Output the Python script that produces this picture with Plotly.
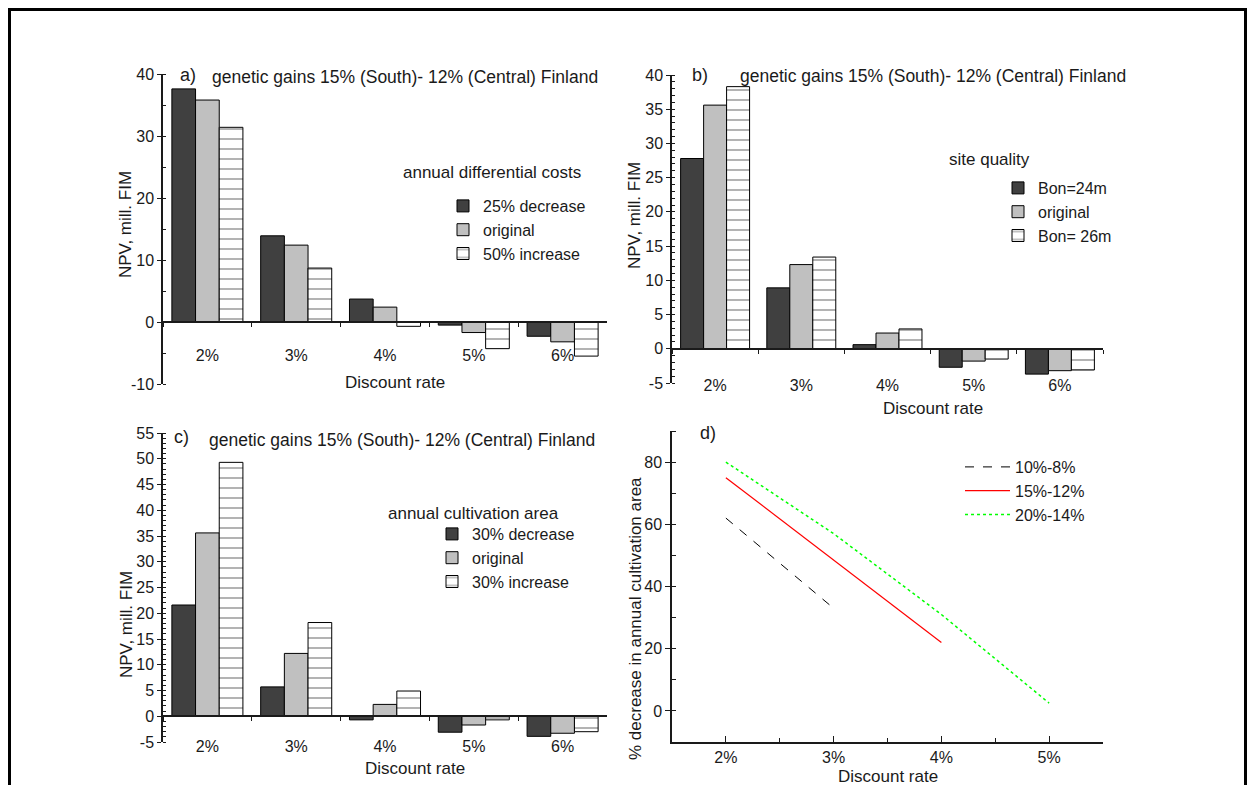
import plotly.graph_objects as go

W, H = 1248, 785

# ---------------- data ----------------
rates = ["2%", "3%", "4%", "5%", "6%"]

a_names = ["25% decrease", "original", "50% increase"]
a_dec = [37.6, 13.9, 3.7, -0.5, -2.3]
a_orig = [35.8, 12.4, 2.4, -1.7, -3.2]
a_inc = [31.4, 8.7, -0.7, -4.3, -5.5]
a_yticks = [-10, 0, 10, 20, 30, 40]

b_names = ["Bon=24m", "original", "Bon= 26m"]
b_24 = [27.8, 8.9, 0.6, -2.7, -3.7]
b_orig = [35.6, 12.3, 2.3, -1.8, -3.2]
b_26 = [38.3, 13.4, 2.9, -1.5, -3.1]
b_yticks = [-5, 0, 5, 10, 15, 20, 25, 30, 35, 40]

c_names = ["30% decrease", "original", "30% increase"]
c_dec = [21.6, 5.7, -0.7, -3.1, -3.9]
c_orig = [35.6, 12.2, 2.3, -1.7, -3.3]
c_inc = [49.3, 18.2, 4.9, -0.7, -3.0]
c_yticks = [-5, 0, 5, 10, 15, 20, 25, 30, 35, 40, 45, 50, 55]

d_names = ["10%-8%", "15%-12%", "20%-14%"]
d_x1 = [2, 3]
d_y1 = [62, 33]
d_x2 = [2, 3, 4]
d_y2 = [75, 48.5, 22]
d_x3 = [2, 3, 4, 5]
d_y3 = [80, 57, 31, 2.5]
d_xticks = [2, 3, 4, 5]
d_xticktext = ["2%", "3%", "4%", "5%"]
d_yticks = [0, 20, 40, 60, 80]

title_text = "genetic gains 15% (South)- 12% (Central) Finland"

# ---------------- helpers ----------------
FONT = "Arial, Liberation Sans, sans-serif"
INK = "#1a1a1a"


def px(p):
    return p / W


def py(p):
    return 1 - p / H


DARK = "#404040"
GREY = "#c0c0c0"

fig = go.Figure()


def add_bars(vals_list, names, xa, ya, legend):
    styles = [
        dict(color=DARK),
        dict(color=GREY),
        dict(color="white", pattern=dict(shape="-", size=10, solidity=0.12,
                                         fgcolor="black", bgcolor="white")),
    ]
    for vals, name, st in zip(vals_list, names, styles):
        marker = dict(line=dict(color="black", width=1), **st)
        fig.add_trace(go.Bar(x=rates, y=vals, name=name, marker=marker,
                             xaxis=xa, yaxis=ya, legend=legend))


add_bars([a_dec, a_orig, a_inc], a_names, "x", "y", "legend")
add_bars([b_24, b_orig, b_26], b_names, "x2", "y2", "legend2")
add_bars([c_dec, c_orig, c_inc], c_names, "x3", "y3", "legend3")

fig.add_trace(go.Scatter(x=d_x1, y=d_y1, name=d_names[0], mode="lines",
                         line=dict(color="black", width=1, dash="dash"),
                         xaxis="x4", yaxis="y4", legend="legend4"))
fig.add_trace(go.Scatter(x=d_x2, y=d_y2, name=d_names[1], mode="lines",
                         line=dict(color="#ff0000", width=1.2),
                         xaxis="x4", yaxis="y4", legend="legend4"))
fig.add_trace(go.Scatter(x=d_x3, y=d_y3, name=d_names[2], mode="lines",
                         line=dict(color="#00ff00", width=1.5, dash="dot"),
                         xaxis="x4", yaxis="y4", legend="legend4"))

# ---------------- axes ----------------
panels = {
    # name: (xleft, xright, ytop, ybottom, ymin, ymax, yticks, minor, standoff)
    "a": (163, 607, 74, 384, -10, 40, a_yticks, 5, 19),
    "b": (672, 1103, 75, 383, -5, 40, b_yticks, 1, 22),
    "c": (163, 607, 433, 742, -5, 55, c_yticks, 1, 16),
}
axis_ids = {"a": ("xaxis", "yaxis"), "b": ("xaxis2", "yaxis2"),
            "c": ("xaxis3", "yaxis3")}
xanchor_ids = {"a": "x", "b": "x2", "c": "x3"}

layout = {}
tickfont = dict(family=FONT, size=16, color=INK)
for k, (xl, xr, yt, yb, ymin, ymax, yt_vals, mn, so) in panels.items():
    xname, yname = axis_ids[k]
    ydom = [py(yb), py(yt)]
    zero_pos = ydom[0] + (0 - ymin) / (ymax - ymin) * (ydom[1] - ydom[0])
    layout[xname] = dict(
        domain=[px(xl), px(xr)], anchor="free", position=zero_pos,
        type="category", range=[-0.5, 4.5], showline=True, linecolor=INK,
        linewidth=1.5, ticks="outside", ticklen=4, tickcolor=INK,
        tickson="boundaries", showgrid=False, zeroline=False,
        tickfont=tickfont, ticklabelstandoff=so, fixedrange=True,
        automargin=False)
    layout[yname] = dict(
        domain=ydom, anchor=xanchor_ids[k], range=[ymin, ymax],
        showline=True, linecolor=INK, linewidth=1.5, ticks="outside",
        ticklen=4, tickcolor=INK, tickvals=yt_vals,
        ticktext=[str(v) for v in yt_vals], showgrid=False,
        zeroline=False, tickfont=tickfont,
        minor=dict(ticks="inside", ticklen=3, dtick=mn, tick0=0, tickcolor=INK),
        fixedrange=True, automargin=False)

layout["xaxis4"] = dict(
    domain=[px(672), px(1103)], anchor="y4", range=[1.5, 5.5],
    tickvals=d_xticks, ticktext=d_xticktext, showline=True, linecolor=INK,
    linewidth=1.5, ticks="inside", ticklen=6, tickcolor=INK, showgrid=False,
    zeroline=False, tickfont=tickfont, ticklabelstandoff=0,
    minor=dict(ticks="inside", ticklen=4, dtick=0.5, tick0=1.5, tickcolor=INK),
    fixedrange=True, automargin=False)
layout["yaxis4"] = dict(
    domain=[py(742), py(431)], anchor="x4", range=[-10, 90],
    showline=True, linecolor=INK, linewidth=1.5, ticks="outside", ticklen=5,
    tickcolor=INK, tickvals=d_yticks, ticktext=[str(v) for v in d_yticks],
    showgrid=False, zeroline=False, tickfont=tickfont,
    minor=dict(ticks="inside", ticklen=4, dtick=10, tick0=0, tickcolor=INK),
    fixedrange=True, automargin=False)

legfont = dict(family=FONT, size=16, color=INK)
common_leg = dict(xanchor="left", yanchor="top", bgcolor="rgba(0,0,0,0)",
                  font=legfont, tracegroupgap=0, borderwidth=0)
layout["legend"] = dict(x=px(443), y=py(189), **common_leg)
layout["legend2"] = dict(x=px(998), y=py(171), **common_leg)
layout["legend3"] = dict(x=px(432), y=py(517), **common_leg)
layout["legend4"] = dict(x=px(960), y=py(450), itemwidth=45, **common_leg)

# ---------------- annotations ----------------
ann = []


def text(x, y, s, size=17, angle=0, xanchor="center"):
    ann.append(dict(x=px(x), y=py(y), xref="paper", yref="paper", text=s,
                    showarrow=False, textangle=angle, xanchor=xanchor,
                    yanchor="middle", font=dict(family=FONT, size=size, color=INK)))


# panel labels and titles
text(178, 75, "a)", 18, xanchor="left")
text(210, 77, title_text, 17.5, xanchor="left")
text(690, 75, "b)", 18, xanchor="left")
text(738, 76, title_text, 17.5, xanchor="left")
text(172, 437, "c)", 18, xanchor="left")
text(207, 440, title_text, 17.5, xanchor="left")
text(698, 433, "d)", 18, xanchor="left")

# legend titles
text(492, 173, "annual differential costs", 17)
text(989, 160, "site quality", 17)
text(473, 513, "annual cultivation area", 17)

# axis titles
text(395, 382, "Discount rate", 17)
text(933, 408, "Discount rate", 17)
text(415, 768, "Discount rate", 17)
text(888, 776, "Discount rate", 17)
text(126, 225, "NPV, mill. FIM", 17, angle=-90)
text(635, 216, "NPV, mill. FIM", 17, angle=-90)
text(126, 625, "NPV, mill. FIM", 17, angle=-90)
text(635, 619, "% decrease in annual cultivation area", 17, angle=-90)

# outer frame
shapes = [dict(type="rect", xref="paper", yref="paper", x0=px(9.5), x1=px(1245.5),
               y0=-0.1, y1=py(9.5), line=dict(color="black", width=3))]

fig.update_layout(
    width=W, height=H, margin=dict(l=0, r=0, t=0, b=0, pad=0, autoexpand=False),
    paper_bgcolor="white", plot_bgcolor="white",
    barmode="group", bargap=0.2, bargroupgap=0,
    annotations=ann, shapes=shapes, showlegend=True,
    font=dict(family=FONT, color=INK),
    **layout,
)

fig.write_html("out.html", config={"displayModeBar": False})
